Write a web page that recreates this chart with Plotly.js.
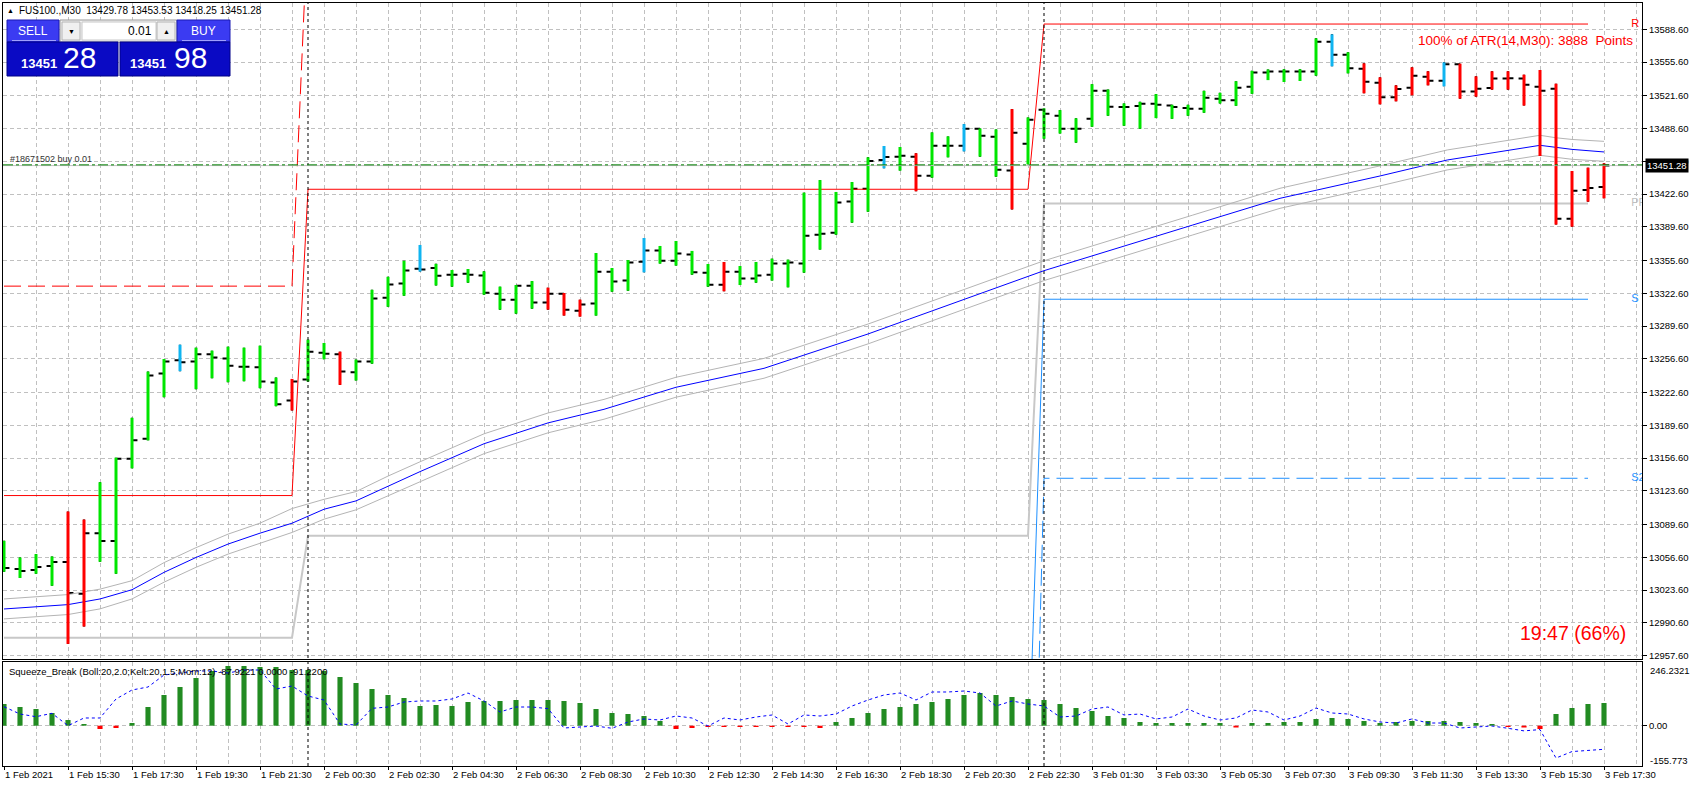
<!DOCTYPE html>
<html>
<head>
<meta charset="utf-8">
<script src="https://cdn.plot.ly/plotly-3.0.1.min.js"></script>
<style>
html,body{margin:0;padding:0;background:#ffffff;}
#chart{width:1697px;height:789px;}
</style>
</head>
<body>
<div id="chart"></div>
<script>
// ================= DATA =================
const symbolTitle = 'FUS100.,M30  13429.78 13453.53 13418.25 13451.28';
const indicatorTitle = 'Squeeze_Break (Boll:20,2.0;Kelt:20,1.5;Mom:12) -87.9221 0.0000 -91.2200';
const atrText = '100% of ATR(14,M30): 3888  Points';
const timerText = '19:47 (66%)';
const orderText = '#18671502 buy 0.01';

const timeLabels = ['1 Feb 2021','1 Feb 15:30','1 Feb 17:30','1 Feb 19:30','1 Feb 21:30','2 Feb 00:30','2 Feb 02:30',
  '2 Feb 04:30','2 Feb 06:30','2 Feb 08:30','2 Feb 10:30','2 Feb 12:30','2 Feb 14:30','2 Feb 16:30','2 Feb 18:30',
  '2 Feb 20:30','2 Feb 22:30','3 Feb 01:30','3 Feb 03:30','3 Feb 05:30','3 Feb 07:30','3 Feb 09:30','3 Feb 11:30',
  '3 Feb 13:30','3 Feb 15:30','3 Feb 17:30'];
const timeLabelBars = [0,4,8,12,16,20,24,28,32,36,40,44,48,52,56,60,64,68,72,76,80,84,88,92,96,100];
const separatorBars = [19, 65];

const priceTicks = [13588.6,13555.6,13521.6,13488.6,13455.6,13422.6,13389.6,13355.6,13322.6,13289.6,
  13256.6,13222.6,13189.6,13156.6,13123.6,13089.6,13056.6,13023.6,12990.6,12957.6];

const opens = [13050.0,13044.7,13043.7,13047.7,13051.8,13019.9,13080.9,13072.9,13155.9,13176.0,
13241.7,13255.1,13253.8,13261.1,13256.8,13248.7,13248.1,13232.7,13214.6,13235.7,
13262.8,13261.1,13243.0,13253.8,13318.1,13332.5,13347.2,13348.2,13341.4,13342.4,
13340.4,13322.2,13316.2,13330.3,13313.2,13322.2,13305.1,13312.2,13344.4,13335.4,
13354.5,13365.6,13355.5,13361.6,13343.4,13331.3,13344.4,13337.4,13341.4,13352.5,
13352.5,13381.7,13383.7,13415.0,13428.0,13456.9,13460.3,13460.3,13441.1,13471.3,
13471.3,13488.4,13480.3,13446.2,13473.3,13507.5,13501.5,13488.4,13498.4,13526.6,
13510.2,13511.2,13513.5,13511.9,13509.2,13508.5,13518.6,13517.2,13530.7,13545.1,
13546.1,13546.1,13546.1,13576.1,13563.0,13548.9,13534.8,13520.1,13529.8,13540.9,
13536.8,13553.3,13525.8,13529.5,13538.9,13538.9,13530.8,13528.8,13397.8,13426.7,
13429.78];
const highs = [13073.2,13056.4,13059.8,13057.4,13102.7,13094.6,13132.2,13157.0,13197.1,13243.7,
13256.4,13270.8,13267.8,13264.8,13268.8,13267.8,13269.8,13237.7,13236.3,13275.9,
13272.5,13263.8,13255.8,13326.1,13339.2,13355.3,13371.3,13352.3,13346.1,13347.1,
13344.7,13329.3,13330.9,13334.9,13328.3,13322.9,13316.2,13363.2,13348.1,13356.1,
13378.3,13370.3,13375.3,13365.3,13352.1,13354.1,13350.1,13354.1,13357.5,13356.5,
13424.0,13436.7,13424.7,13434.7,13459.6,13471.0,13470.0,13463.7,13484.7,13480.7,
13493.1,13488.7,13487.7,13508.2,13499.8,13508.9,13507.2,13498.9,13533.3,13527.9,
13513.9,13515.5,13523.3,13512.5,13512.5,13526.6,13524.6,13536.3,13546.8,13548.1,
13548.3,13548.3,13579.5,13583.5,13565.4,13554.3,13540.2,13532.1,13550.3,13546.3,
13555.3,13554.0,13541.2,13546.3,13546.3,13542.9,13547.6,13533.8,13445.8,13449.2,
13453.53];
const lows = [13042.0,13035.7,13040.0,13027.9,12969.3,12986.8,13052.1,13040.0,13146.2,13174.4,
13217.9,13244.1,13226.0,13237.0,13233.0,13234.0,13227.0,13208.9,13204.5,13233.7,
13256.1,13230.3,13234.7,13251.7,13309.0,13320.1,13344.5,13330.5,13329.3,13333.3,
13321.2,13306.1,13302.1,13307.1,13306.1,13300.1,13299.1,13300.1,13324.2,13325.2,
13343.7,13352.5,13350.5,13341.4,13329.3,13324.6,13330.9,13333.3,13335.4,13328.6,
13343.4,13366.6,13381.7,13393.8,13404.8,13448.5,13446.2,13425.4,13439.1,13459.6,
13465.6,13460.3,13440.1,13407.1,13452.5,13478.3,13483.6,13474.4,13490.4,13501.5,
13491.4,13488.4,13499.1,13498.4,13501.5,13504.5,13513.9,13511.5,13523.6,13537.4,
13535.5,13536.5,13541.9,13551.3,13544.2,13524.1,13513.0,13516.0,13522.1,13532.1,
13531.1,13518.7,13520.7,13527.8,13527.8,13511.7,13460.9,13391.8,13389.7,13414.9,
13418.25];
const closes = [13045.7,13042.7,13046.7,13051.8,13020.6,13080.9,13072.9,13155.9,13174.4,13239.7,
13253.8,13253.1,13261.1,13257.8,13249.7,13248.7,13233.7,13210.9,13233.7,13263.8,
13261.8,13243.7,13253.8,13317.4,13331.5,13345.5,13346.6,13340.2,13341.4,13341.4,
13323.2,13316.2,13330.3,13313.2,13322.2,13306.1,13311.2,13344.4,13334.4,13353.5,
13365.6,13355.5,13362.6,13343.7,13331.3,13344.4,13337.4,13340.4,13352.5,13353.5,
13380.7,13382.7,13414.0,13428.0,13455.9,13459.9,13461.3,13441.1,13471.3,13471.3,
13488.4,13481.3,13447.1,13484.3,13497.4,13503.5,13488.4,13488.4,13526.6,13510.5,
13510.2,13513.5,13512.5,13510.2,13508.5,13519.6,13517.2,13529.7,13545.1,13546.1,
13546.1,13546.1,13576.1,13563.0,13549.3,13535.8,13520.1,13528.4,13541.9,13536.8,
13553.3,13525.8,13528.8,13538.9,13539.2,13532.8,13526.8,13397.8,13426.0,13428.7,
13451.28];
const barColors = ['g','g','g','g','r','r','g','g','g','g',
'g','b','g','g','g','g','g','g','r','g',
'g','r','g','g','g','g','b','g','g','g',
'g','g','g','g','r','r','r','g','g','g',
'b','g','g','g','g','r','g','g','g','g',
'g','g','g','g','g','b','g','r','g','g',
'b','g','g','r','g','g','g','g','g','g',
'g','g','g','g','g','g','g','g','g','g',
'g','g','g','b','g','r','r','r','r','r',
'b','r','r','r','r','r','r','r','r','r',
'r'];

// moving average with envelope (read at sample bars)
const maBars  = [0,4,6,8,10,12,14,16,18,20,22,24,26,30,34,37.5,42,47.5,54,56.6,65,74.3,79.75,86,90.2,96,97,98,100];
const maMid   = [13004.5,13008.9,13014.6,13023.9,13041.4,13056.4,13069.9,13080.9,13090.9,13105.0,13113.4,13128.5,13142.9,13171.0,13192.0,13205.7,13227.9,13247.0,13281.6,13296.7,13345.4,13391.4,13418.3,13440.8,13456.9,13471.7,13469.3,13467.6,13465.0];
const maUpper = [13014.6,13019.0,13024.5,13033.0,13051.2,13066.3,13079.9,13091.0,13105.7,13115.0,13122.8,13138.4,13152.8,13181.0,13202.0,13215.7,13238.0,13257.0,13291.6,13306.7,13355.4,13401.4,13428.4,13451.0,13467.0,13481.8,13479.3,13477.6,13475.7];
const maLower = [12994.5,12998.9,13004.6,13014.6,13031.5,13046.5,13059.8,13070.9,13081.6,13095.0,13104.4,13118.5,13132.9,13161.0,13182.0,13195.7,13217.9,13237.0,13271.6,13286.7,13335.4,13381.4,13408.2,13430.8,13446.9,13461.6,13459.3,13457.6,13455.6];

// daily pivot levels
const pivotBars = [0, 18, 19, 64, 65, 99];
const levelR  = [13118.8, 13118.8, 13427.4, 13427.4, 13593.9, 13593.9];
const levelR2 = [13329.8, 13329.8, 13700.0, 13700.0, 13800.0, 13800.0];
const levelPP = [12975.5, 12975.5, 13078.3, 13078.3, 13413.0, 13413.0];
const levelS1 = [12700.0, 12700.0, 12830.0, 12830.0, 13316.6, 13316.6];
const levelS2 = [12500.0, 12500.0, 12531.0, 12531.0, 13136.2, 13136.2];
const pivotNames = ['R', 'PP', 'S', 'S2'];

const bidPrice = 13451.28;
const orderPrice = 13452.0;

// Squeeze indicator
const squeezeHist = [83.9,72.3,64.5,49.1,22.0,6.6,-12.8,-8.9,10.4,72.3,
118.7,149.6,184.4,211.4,230.7,230.7,226.9,226.9,215.3,215.3,
211.4,188.2,165.0,141.8,118.7,107.1,76.1,80.0,76.1,91.6,
95.5,95.5,99.3,99.3,99.3,95.5,87.7,64.5,49.1,45.2,
37.5,18.2,-12.8,-8.9,-5.0,-5.0,-5.0,-5.0,-5.0,-5.0,
-5.0,-8.9,14.3,29.8,49.1,64.5,72.3,83.9,91.6,103.2,
118.7,126.4,118.7,110.9,103.2,99.3,83.9,68.4,56.8,37.5,
29.8,14.3,10.4,10.4,10.4,10.4,10.4,-7.0,10.4,10.4,
14.3,14.3,26.0,29.8,26.0,18.2,10.4,14.3,18.2,18.2,
18.2,14.3,10.4,6.6,-5.0,-7.0,-12.8,45.2,68.4,83.9,
87.7];
const squeezeLine = [73.4,45.2,34.8,47.9,0,29.8,29.8,103.2,138,149.6,
196,203.7,211.4,211.4,203.7,215.3,215.3,141.8,153.4,114.8,
99.3,6.6,2.7,67.2,72.3,91.6,95.5,95.5,103.2,126.4,
95.5,53,72.3,72.3,66,-8.9,-5,-1.2,-10,14.3,
26,22,37.5,29.8,-1.2,29.8,22,33.6,41.4,6.6,
41.4,37.5,45.2,76.1,99.3,118.7,126.4,99.3,130.3,130.3,
134.1,126.4,76.1,95.5,83.9,76.1,33.6,37.5,64.5,72.3,
41.4,45.2,26,33.6,64.5,37.5,22,29.8,60.7,53,
22,37.5,68.4,49.1,45.2,26,14.3,10.4,26,10.4,
10.4,-8.9,-5,-1.2,-10,-20,-15,-125,-100,-95,
-91.2];
const indMax = 246.2321, indMin = -155.773;

// ================= LAYOUT HELPERS =================
const W = 1697, H = 789;
const px = v => v / W;
const py = v => 1 - v / H;
const FONT = 'Liberation Sans, Arial, sans-serif';
const GRID = '#c0c0c0';
const GRIDDASH = '4px,3px';
const N = opens.length;
const idx = opens.map((_, i) => i);

const colorMap = { g: '#00e600', r: '#ff0000', b: '#10b4f0' };

// ================= TRACES =================
const traces = [];

// pivot lines
const pivotStyles = [
  [levelPP, '#c8c8c8', 2, 'solid'],
  [levelS2, '#1e90ff', 1, '17px,7px'],
  [levelS1, '#1e90ff', 1, 'solid'],
  [levelR2, '#ff0000', 1, '17px,7px'],
  [levelR,  '#ff0000', 1, 'solid']
];
pivotStyles.forEach(([lv, c, w, d]) => traces.push({
  type: 'scatter', mode: 'lines', x: pivotBars, y: lv, xaxis: 'x', yaxis: 'y',
  line: { color: c, width: w, dash: d }, hoverinfo: 'skip'
}));

// MA + envelope
[[maUpper, '#b4b4b4'], [maLower, '#b4b4b4'], [maMid, '#0000ff']].forEach(([arr, c]) => traces.push({
  type: 'scatter', mode: 'lines', x: maBars, y: arr, xaxis: 'x', yaxis: 'y',
  line: { color: c, width: 1 }, hoverinfo: 'skip'
}));

// OHLC ticks (black)
traces.push({
  type: 'ohlc', x: idx, open: opens, high: highs, low: lows, close: closes,
  xaxis: 'x', yaxis: 'y', tickwidth: 0.34,
  increasing: { line: { color: '#000000', width: 2 } },
  decreasing: { line: { color: '#000000', width: 2 } },
  hoverinfo: 'skip'
});

// coloured high-low stems
['g', 'r', 'b'].forEach(k => {
  const xs = [], ys = [];
  idx.forEach(i => {
    if (barColors[i] === k) { xs.push(i, i, null); ys.push(lows[i], highs[i], null); }
  });
  traces.push({
    type: 'scatter', mode: 'lines', x: xs, y: ys, xaxis: 'x', yaxis: 'y',
    line: { color: colorMap[k], width: 3 }, hoverinfo: 'skip'
  });
});

// right-edge pivot names (clipped by plot area)
const lastP = pivotBars.length - 1;
traces.push({
  type: 'scatter', mode: 'text', xaxis: 'x', yaxis: 'y', cliponaxis: true,
  x: pivotNames.map(() => 101.7),
  y: [levelR[lastP], levelPP[lastP], levelS1[lastP], levelS2[lastP]],
  text: pivotNames, textposition: 'middle right',
  textfont: { family: FONT, size: 11, color: ['#ff0000', '#c0c0c0', '#1e90ff', '#1e90ff'] },
  hoverinfo: 'skip'
});

// indicator histogram
traces.push({
  type: 'bar', x: idx, y: squeezeHist, xaxis: 'x2', yaxis: 'y2', width: 0.32,
  marker: { color: squeezeHist.map(v => v >= 0 ? '#228b22' : '#ff0000'), line: { width: 0 } },
  hoverinfo: 'skip'
});
traces.push({
  type: 'scatter', mode: 'lines', x: idx, y: squeezeLine, xaxis: 'x2', yaxis: 'y2',
  line: { color: '#0000ff', width: 1, dash: '3px,3px' }, hoverinfo: 'skip'
});

// ================= SHAPES =================
const shapes = [];
separatorBars.forEach(b => shapes.push({
  type: 'line', xref: 'x', yref: 'paper', x0: b, x1: b, y0: py(766), y1: py(3),
  line: { color: '#000000', width: 1, dash: '3px,3px' }
}));
shapes.push({ type: 'line', xref: 'x domain', yref: 'y', x0: 0, x1: 1, y0: bidPrice, y1: bidPrice,
  line: { color: '#c0c0c0', width: 1 } });
shapes.push({ type: 'line', xref: 'x domain', yref: 'y', x0: 0, x1: 1, y0: orderPrice, y1: orderPrice,
  line: { color: '#008000', width: 1, dash: '10px,3px,3px,3px' } });

function rect(x0, y0, x1, y1, fill, lc) {
  shapes.push({ type: 'rect', xref: 'paper', yref: 'paper', x0: px(x0), x1: px(x1), y0: py(y1), y1: py(y0),
    fillcolor: fill, line: { color: lc, width: 1 } });
}
function hline(x0, x1, y, c) {
  shapes.push({ type: 'line', xref: 'paper', yref: 'paper', x0: px(x0), x1: px(x1), y0: py(y), y1: py(y),
    line: { color: c, width: 1 } });
}
// one-click trading panel
rect(60, 20, 177, 42, '#f0f0f0', '#9a9a9a');
rect(82, 22, 156, 40, '#ffffff', '#c8c8c8');
rect(62, 22, 80, 40, '#f0f0f0', '#b4b4b4');
rect(157, 22, 175, 40, '#f0f0f0', '#b4b4b4');
rect(7, 20, 59, 42, '#3b3bf2', '#1a1ab4');
rect(177, 20, 230, 42, '#3b3bf2', '#1a1ab4');
rect(7, 42, 118, 76, '#0a0ac4', '#000088');
rect(120, 42, 230, 76, '#0a0ac4', '#000088');
hline(12, 56, 40.5, '#a0a0ff');
hline(182, 226, 40.5, '#a0a0ff');

// ================= ANNOTATIONS =================
const annotations = [];
function txt(t, x, y, o) {
  annotations.push(Object.assign({
    text: t, xref: 'paper', yref: 'paper', x: px(x), y: py(y), showarrow: false,
    xanchor: 'left', yanchor: 'middle', font: { family: FONT, size: 10, color: '#000000' }
  }, o || {}));
}
txt('▲', 5, 10.5, { font: { family: FONT, size: 7, color: '#000000' } });
txt(symbolTitle, 17, 10.5, { font: { family: FONT, size: 10, color: '#000000' } });
txt('SELL', 33, 30.5, { xanchor: 'center', font: { family: FONT, size: 12, color: '#ffffff' } });
txt('BUY', 203.5, 30.5, { xanchor: 'center', font: { family: FONT, size: 12, color: '#ffffff' } });
txt('0.01', 154, 31, { xanchor: 'right', font: { family: FONT, size: 12, color: '#000000' } });
txt('▼', 71, 31, { xanchor: 'center', font: { family: FONT, size: 7, color: '#000000' } });
txt('▲', 166, 31, { xanchor: 'center', font: { family: FONT, size: 7, color: '#000000' } });
const bidStr = bidPrice.toFixed(2);
const askStr = '13451.98';
txt('<b>' + bidStr.slice(0, 5) + '</b>', 59, 64, { xanchor: 'right', font: { family: FONT, size: 13, color: '#ffffff' } });
txt(bidStr.slice(6), 61, 57.5, { font: { family: FONT, size: 30, color: '#ffffff' } });
txt('<b>' + askStr.slice(0, 5) + '</b>', 168, 64, { xanchor: 'right', font: { family: FONT, size: 13, color: '#ffffff' } });
txt(askStr.slice(6), 172, 57.5, { font: { family: FONT, size: 30, color: '#ffffff' } });

txt(orderText, 8, 158.5, { font: { family: FONT, size: 9, color: '#333333' } });
txt(atrText, 1635, 40.5, { xanchor: 'right', font: { family: FONT, size: 13.5, color: '#ff0000' } });
txt(timerText, 1628, 633, { xanchor: 'right', font: { family: FONT, size: 19.5, color: '#ff0000' } });
txt(indicatorTitle, 7, 671, { font: { family: FONT, size: 9.5, color: '#000000' } });
txt(indMax.toFixed(4), 1648, 670, { font: { family: FONT, size: 9.5, color: '#000000' } });
txt(indMin.toFixed(3), 1648, 760, { font: { family: FONT, size: 9.5, color: '#000000' } });
annotations.push({
  text: bidStr, xref: 'paper', yref: 'y', x: px(1645), y: bidPrice, showarrow: false,
  xanchor: 'left', yanchor: 'middle', bgcolor: '#000000', borderpad: 1,
  font: { family: FONT, size: 9.5, color: '#ffffff' }
});

// ================= AXES =================
const xRange = [-0.0625, 102.375];
const xDomain = [px(3), px(1642)];
const axisCommon = {
  range: xRange, domain: xDomain, showline: true, mirror: true, linecolor: '#000000', linewidth: 1,
  tickmode: 'array', tickvals: timeLabelBars, ticktext: timeLabels,
  showgrid: true, gridcolor: GRID, gridwidth: 1, griddash: GRIDDASH, zeroline: false,
  minor: { tickmode: 'linear', tick0: 0, dtick: 2, showgrid: true, gridcolor: GRID, gridwidth: 1, griddash: GRIDDASH, ticks: '' },
  automargin: false, fixedrange: true
};

const layout = {
  width: W, height: H, margin: { l: 0, r: 0, t: 0, b: 0, pad: 0 },
  paper_bgcolor: '#ffffff', plot_bgcolor: '#ffffff', showlegend: false, hovermode: false,
  font: { family: FONT, size: 9.5, color: '#000000' },
  xaxis: Object.assign({}, axisCommon, { anchor: 'y', showticklabels: false, ticks: '', rangeslider: { visible: false } }),
  xaxis2: Object.assign({}, axisCommon, {
    anchor: 'y2', showticklabels: true, ticks: 'outside', ticklen: 3, tickcolor: '#000000',
    ticklabelposition: 'outside right', tickfont: { family: FONT, size: 9.5, color: '#000000' }
  }),
  yaxis: {
    domain: [py(659), py(3)], range: [12954.1, 13615.1], anchor: 'x', side: 'right',
    tickmode: 'array', tickvals: priceTicks, ticktext: priceTicks.map(v => v.toFixed(2)),
    ticks: 'outside', ticklen: 4, tickcolor: '#000000',
    tickfont: { family: FONT, size: 9.5, color: '#000000' },
    showgrid: true, gridcolor: GRID, griddash: GRIDDASH, zeroline: false,
    showline: true, mirror: true, linecolor: '#000000', linewidth: 1, automargin: false, fixedrange: true
  },
  yaxis2: {
    domain: [py(766), py(662)], range: [indMin, indMax], anchor: 'x2', side: 'right',
    tickmode: 'array', tickvals: [0], ticktext: ['0.00'],
    ticks: 'outside', ticklen: 4, tickcolor: '#000000',
    tickfont: { family: FONT, size: 9.5, color: '#000000' },
    showgrid: true, gridcolor: GRID, griddash: GRIDDASH, zeroline: false,
    showline: true, mirror: true, linecolor: '#000000', linewidth: 1, automargin: false, fixedrange: true
  },
  shapes: shapes,
  annotations: annotations
};

Plotly.newPlot('chart', traces, layout, { displayModeBar: false, staticPlot: true });
</script>
</body>
</html>
